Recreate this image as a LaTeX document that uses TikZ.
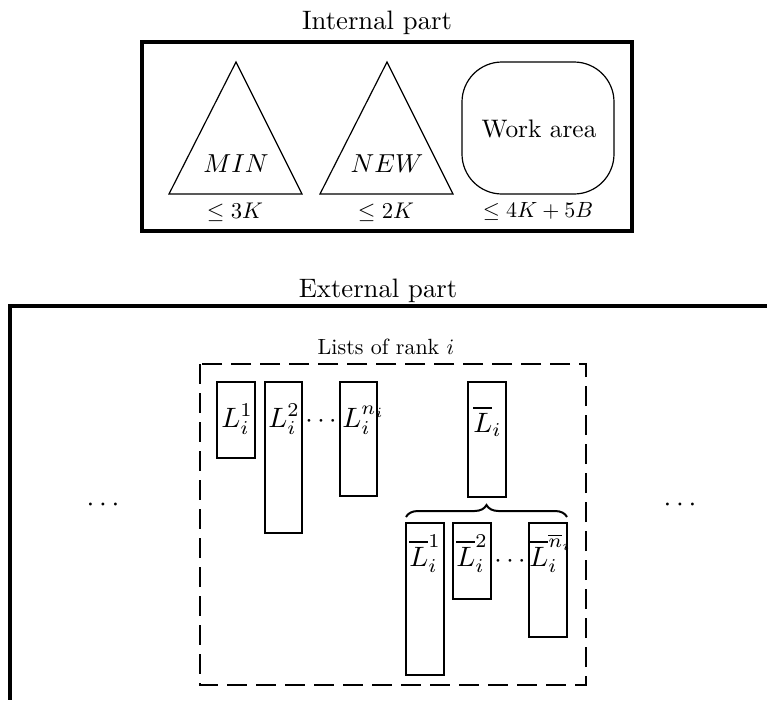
\documentclass[tikz,border=0pt]{standalone}
\usetikzlibrary{decorations.pathreplacing}
\newcommand{\tbar}[1]{\mathord{\vbox{\hrule height 0.9pt\kern 1.3pt\hbox{$#1$}}}}
\begin{document}
\begin{tikzpicture}[x=0.75pt,y=-0.75pt,
  thickbox/.style={draw,line width=2.5pt},
  listbox/.style={draw,line width=1.7pt},
  thin/.style={draw,line width=0.9pt},
  lbl/.style={inner sep=0pt,anchor=base},
  lw/.style={inner sep=0pt,anchor=base west}]
\useasboundingbox (0,0) rectangle (767,700);
% Internal part
\node[lbl] (intt) at (377,29) {\scalebox{2.0}{Internal part}};
\draw[thickbox] (142,42) rectangle (632,231);
\coordinate (minA) at (236,62); \coordinate (minL) at (169,194); \coordinate (minR) at (302,194);
\draw[thin] (minL) -- (minA) -- (minR) -- cycle;
\node[lbl] (min) at (236,172) {\scalebox{1.95}{$MIN$}};
\node[lbl] (minc) at (235,218) {\scalebox{1.7}{$\le 3K$}};
\coordinate (newA) at (387,62); \coordinate (newL) at (320,194); \coordinate (newR) at (453,194);
\draw[thin] (newL) -- (newA) -- (newR) -- cycle;
\node[lbl] (new) at (387,172) {\scalebox{1.95}{$NEW$}};
\node[lbl] (newc) at (386,218) {\scalebox{1.7}{$\le 2K$}};
\draw[thin,rounded corners=30pt] (462,62) rectangle (614,194);
\node[lbl] (work) at (539,137) {\scalebox{1.9}{Work area}};
\node[lbl] (workc) at (538,217) {\scalebox{1.65}{$\le 4K+5B$}};
% External part
\node[lbl] (extt) at (378,297) {\scalebox{2.0}{External part}};
\draw[thickbox] (767,306) -- (10,306) -- (10,700);
\node[lbl,anchor=center] (ldots) at (103,505) {\scalebox{2.1}{$\cdots$}};
\node[lbl,anchor=center] (rdots) at (680,505) {\scalebox{2.1}{$\cdots$}};
\draw[line width=1.5pt,dash pattern=on 15pt off 6.75pt] (200,364) rectangle (586,685);
\node[lbl] (lists) at (386,354) {\scalebox{1.65}{Lists of rank $i$}};
% L lists
\draw[listbox] (217,382) rectangle (255,458);
\node[lw] (l1) at (221,427) {\scalebox{2.1}{$L_i^1$}};
\draw[listbox] (265,382) rectangle (302,533);
\node[lw] (l2) at (268,427) {\scalebox{2.1}{$L_i^2$}};
\node[lbl,anchor=center] (ld) at (321,422) {\scalebox{2.0}{$\cdots$}};
\draw[listbox] (340,382) rectangle (377,496);
\node[lw] (ln) at (342,427) {\scalebox{2.1}{$L_i^{n_i}$}};
% Lbar
\draw[listbox] (468,382) rectangle (506,497);
\node[lw] (lb) at (473,432) {\scalebox{2.1}{$\tbar{L}_i$}};
\coordinate (brL) at (406,517); \coordinate (brR) at (567,517);
\draw[line width=1.5pt,decorate,decoration={brace,amplitude=9pt}] (brL) -- (brR);
\draw[listbox] (406,523) rectangle (444,675);
\node[lw] (lb1) at (409,566) {\scalebox{2.1}{$\tbar{L}_i^1$}};
\draw[listbox] (453,523) rectangle (491,599);
\node[lw] (lb2) at (456,566) {\scalebox{2.1}{$\tbar{L}_i^2$}};
\node[lbl,anchor=center] (lbd) at (510,562) {\scalebox{2.0}{$\cdots$}};
\draw[listbox] (529,523) rectangle (567,637);
\node[lw] (lbn) at (529,566) {\scalebox{2.1}{$\tbar{L}_i^{\overline{n}_i}$}};
\end{tikzpicture}
\end{document}
